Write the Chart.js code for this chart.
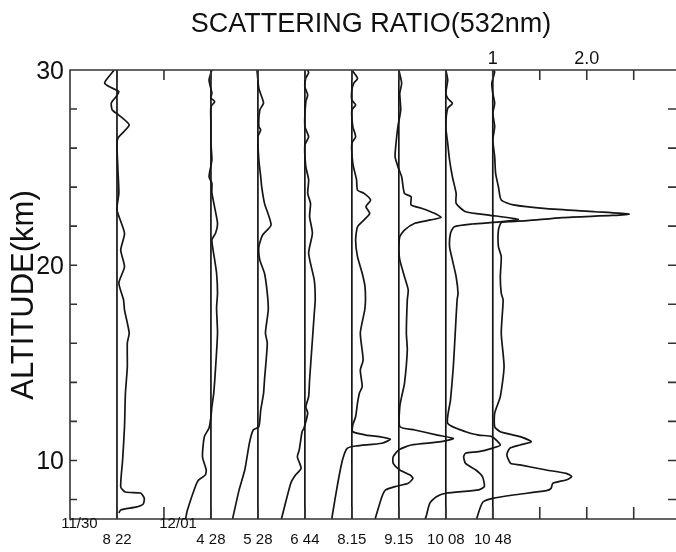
<!DOCTYPE html>
<html>
<head>
<meta charset="utf-8">
<script src="https://cdn.jsdelivr.net/npm/chart.js@4.4.0/dist/chart.umd.min.js"></script>
<style>
  html, body { margin: 0; padding: 0; background: #fff; }
</style>
</head>
<body>
<canvas id="ratioChart" width="676" height="552"></canvas>
<script>
// altitude range (km) and tick marks
const altMin = 7;
const altMax = 30;
const altTicks = [8, 10, 12, 14, 16, 18, 20, 22, 24, 26, 28];
const altLabels = [10, 20, 30];

// horizontal axis: one unit = 0.5 in scattering ratio, profiles shifted by offsets
const xMax = 12.9;
const xTicks = [1, 2, 3, 4, 5, 6, 7, 8, 9, 10, 11, 12];
const unitsPerRatio = 2;
const ratioLabels = ['1', '2.0'];
const ratioLabelAt = [9, 11];

const profileOffsets = [1, 3, 4, 5, 6, 7, 8, 9];
const profileTimes = ['8 22', '4 28', '5 28', '6 44', '8.15', '9.15', '10 08', '10 48'];
const dateLabels = ['11/30', '12/01'];
const dateAt = [0.2, 2.3];

// [altitude km, scattering ratio]
const p0822 = [[30, 0.97], [29.49, 0.885], [29.32, 0.87], [29.14, 0.92], [28.89, 1.02], [28.63, 0.99],
  [28.31, 0.94], [27.95, 0.95], [27.69, 1.02], [27.18, 1.13], [26.58, 1.02], [26.33, 1.0], [24.88, 1.01],
  [23.7, 1.02], [22.83, 1.0], [21.64, 1.08], [20.78, 1.04], [19.92, 1.08], [19.09, 1.02], [18.22, 1.07],
  [17.71, 1.08], [16.53, 1.13], [16.02, 1.11], [14.79, 1.11], [13.45, 1.09], [11.7, 1.08], [10.02, 1.06],
  [8.64, 1.04], [8.38, 1.09], [8.33, 1.25], [8.07, 1.29], [7.77, 1.28], [7.62, 1.21], [7.46, 1.04], [7.31, 1.02]];

const p0428 = [[30, 1.01], [29.49, 0.98], [28.82, 1.01], [28.57, 1.0], [28.38, 1.04], [28.12, 1.0],
  [27.18, 1.0], [26.26, 1.0], [25.39, 1.01], [24.53, 0.98], [24.21, 1.01], [23.7, 1.01], [22.16, 1.07],
  [21.65, 1.05], [21.29, 1.01], [20.27, 1.04], [19.6, 1.06], [18.58, 1.07], [17.81, 1.06], [16.53, 1.07],
  [14.79, 1.05], [13.45, 1.03], [12.74, 1.01], [12.23, 1.0], [11.66, 0.98], [11.22, 0.93], [10.19, 0.91],
  [9.51, 0.95], [9.25, 0.94], [9.0, 0.87], [8.74, 0.84], [7.46, 0.75], [7.0, 0.73]];

const p0528 = [[30, 0.99], [29.06, 1.01], [28.31, 1.06], [27.95, 1.02], [27.1, 1.01], [26.93, 1.03],
  [26.58, 1.0], [25.39, 1.01], [24.53, 1.03], [24.02, 1.04], [23.17, 1.07], [22.06, 1.14], [21.55, 1.05],
  [20.95, 1.01], [20.27, 1.02], [19.59, 1.07], [18.56, 1.1], [17.71, 1.11], [16.53, 1.08], [16.0, 1.1],
  [14.12, 1.07], [13.44, 1.06], [12.58, 1.03], [11.73, 1.01], [11.56, 0.95], [10.9, 0.91], [9.51, 0.86],
  [8.49, 0.8], [7.0, 0.73]];

const p0644 = [[30, 1.03], [29.85, 1.04], [29.59, 1.01], [29.14, 1.0], [28.72, 1.03], [28.38, 1.01],
  [27.1, 1.0], [26.58, 1.04], [26.16, 1.0], [25.05, 1.01], [24.37, 1.04], [23.68, 1.03], [23.17, 1.06],
  [22.49, 1.05], [21.64, 1.08], [20.61, 1.04], [19.24, 1.1], [18.22, 1.11], [17.54, 1.1], [16.17, 1.08],
  [14.12, 1.05], [13.27, 1.04], [12.75, 1.01], [12.42, 1.03], [11.65, 0.99], [11.47, 0.97], [10.54, 0.94],
  [10.19, 0.92], [9.59, 0.96], [9.25, 0.9], [8.83, 0.85], [7.0, 0.75]];

const p0815 = [[30, 1.0], [29.57, 1.06], [29.32, 1.02], [28.98, 1.0], [28.46, 1.0], [28.21, 1.04],
  [27.95, 1.0], [27.1, 1.01], [26.58, 1.04], [26.25, 1.0], [25.22, 1.01], [24.37, 1.05], [23.85, 1.06],
  [23.68, 1.13], [23.34, 1.2], [23.0, 1.15], [22.66, 1.19], [22.32, 1.13], [21.97, 1.06], [21.29, 1.04],
  [20.44, 1.06], [19.59, 1.11], [18.9, 1.14], [17.81, 1.14], [16.53, 1.09], [15.15, 1.12], [14.63, 1.09],
  [13.78, 1.11], [13.44, 1.08], [12.93, 1.06], [12.24, 1.04], [11.82, 1.01], [11.47, 1.01], [11.3, 1.15],
  [11.22, 1.29], [11.08, 1.41], [10.88, 1.32], [10.74, 1.04], [10.62, 0.95], [10.02, 0.9], [8.83, 0.85],
  [7.12, 0.79], [7.0, 0.79]];

const p0915 = [[30, 1.0], [29.32, 1.03], [28.81, 1.01], [27.95, 1.02], [27.1, 0.99], [26.25, 0.97],
  [25.56, 0.96], [25.05, 0.99], [24.53, 1.03], [23.68, 1.06], [23.51, 1.13], [23.09, 1.13], [22.92, 1.24],
  [22.66, 1.38], [22.45, 1.45], [22.32, 1.34], [22.15, 1.17], [21.8, 1.06], [21.46, 1.01], [20.78, 1.0],
  [20.27, 1.01], [19.41, 1.06], [18.73, 1.1], [18.22, 1.09], [16.51, 1.08], [15.66, 1.09], [13.95, 1.06],
  [13.27, 1.03], [12.75, 1.01], [11.73, 1.01], [11.56, 1.17], [11.3, 1.41], [11.13, 1.58], [10.96, 1.45],
  [10.79, 1.13], [10.54, 1.0], [10.19, 0.94], [9.85, 0.94], [9.51, 1.01], [9.25, 1.12], [9.08, 1.15],
  [8.83, 1.1], [8.66, 0.96], [8.49, 0.86], [8.14, 0.82], [7.04, 0.75], [7.0, 0.75]];

const p1008 = [[30, 1.0], [29.49, 1.02], [28.81, 1.0], [28.55, 1.02], [28.29, 1.07], [28.04, 1.02],
  [27.1, 1.0], [26.25, 1.02], [25.39, 1.04], [24.53, 1.07], [23.68, 1.11], [23.17, 1.11], [22.74, 1.21],
  [22.57, 1.46], [22.35, 1.77], [22.23, 1.6], [22.11, 1.28], [21.97, 1.09], [21.64, 1.05], [20.95, 1.04],
  [20.27, 1.07], [19.41, 1.11], [18.56, 1.13], [18.22, 1.12], [16.51, 1.1], [14.8, 1.08], [13.1, 1.05],
  [11.9, 1.02], [11.47, 1.21], [11.3, 1.35], [11.22, 1.49], [10.79, 1.58], [10.62, 1.49], [10.45, 1.35],
  [10.37, 1.21], [10.19, 1.19], [9.85, 1.21], [9.51, 1.32], [9.17, 1.39], [8.66, 1.41], [8.49, 1.35],
  [8.32, 1.0], [8.14, 0.9], [7.81, 0.83], [7.12, 0.79], [7.0, 0.78]];

const p1048 = [[30, 1.0], [29.91, 1.02], [29.32, 0.99], [28.81, 1.0], [28.29, 1.02], [27.78, 1.0],
  [27.1, 1.02], [26.41, 1.0], [25.56, 1.02], [24.71, 1.03], [24.02, 1.06], [23.34, 1.09], [23.09, 1.22],
  [22.9, 1.57], [22.74, 2.09], [22.62, 2.45], [22.55, 2.27], [22.44, 1.74], [22.28, 1.37], [22.23, 1.18],
  [22.18, 1.09], [21.8, 1.06], [20.95, 1.06], [20.44, 1.09], [19.41, 1.08], [18.56, 1.09], [18.22, 1.11],
  [16.51, 1.09], [14.8, 1.12], [13.27, 1.08], [12.42, 1.02], [11.73, 1.02], [11.47, 1.08], [11.22, 1.29],
  [10.96, 1.41], [10.79, 1.29], [10.62, 1.18], [10.28, 1.15], [9.85, 1.19], [9.77, 1.29], [9.51, 1.57],
  [9.34, 1.78], [9.17, 1.84], [9.0, 1.78], [8.83, 1.64], [8.57, 1.62], [8.45, 1.57], [8.23, 1.22],
  [8.06, 1.0], [7.89, 0.9], [7.63, 0.87], [7.04, 0.83], [7.0, 0.83]];

const profiles = [p0822, p0428, p0528, p0644, p0815, p0915, p1008, p1048];

const ink = '#151515';
const datasets = [];
profiles.forEach((prof, i) => {
  const off = profileOffsets[i];
  datasets.push({
    data: prof.map(([alt, r]) => ({ x: off + (r - 1) * unitsPerRatio, y: alt })),
    borderColor: ink,
    borderWidth: 1.7,
    tension: 0.2
  });
  // reference line at ratio = 1
  datasets.push({
    data: [{ x: off, y: altMin }, { x: off, y: altMax }],
    borderColor: ink,
    borderWidth: 1.7
  });
});

const frame = {
  id: 'frame',
  afterDatasetsDraw(chart) {
    const { ctx, chartArea: a, scales: { x, y } } = chart;
    ctx.save();
    ctx.strokeStyle = '#333';
    ctx.lineWidth = 1.6;
    ctx.beginPath();
    ctx.moveTo(a.right, a.top);
    ctx.lineTo(a.left, a.top);
    ctx.lineTo(a.left, a.bottom);
    ctx.lineTo(a.right, a.bottom);
    ctx.stroke();

    ctx.beginPath();
    xTicks.forEach(t => {
      const px = x.getPixelForValue(t);
      ctx.moveTo(px, a.top); ctx.lineTo(px, a.top + 10);
      ctx.moveTo(px, a.bottom); ctx.lineTo(px, a.bottom - 12);
    });
    altTicks.forEach(t => {
      const py = y.getPixelForValue(t);
      ctx.moveTo(a.left, py); ctx.lineTo(a.left + 7, py);
      ctx.moveTo(a.right - 8, py); ctx.lineTo(a.right, py);
    });
    ctx.stroke();

    ctx.fillStyle = '#111';
    ctx.font = '25px "Liberation Sans", Arial, sans-serif';
    ctx.textAlign = 'right';
    ctx.textBaseline = 'middle';
    altLabels.forEach(v => ctx.fillText(String(v), a.left - 6, y.getPixelForValue(v) + 2));

    ctx.font = '18px "Liberation Sans", Arial, sans-serif';
    ctx.textAlign = 'center';
    ctx.textBaseline = 'alphabetic';
    ratioLabels.forEach((s, i) => ctx.fillText(s, x.getPixelForValue(ratioLabelAt[i]), a.top - 6));

    ctx.font = '15px "Liberation Sans", Arial, sans-serif';
    ctx.textBaseline = 'middle';
    dateLabels.forEach((s, i) => ctx.fillText(s, x.getPixelForValue(dateAt[i]), a.bottom + 5));
    profileTimes.forEach((s, i) => ctx.fillText(s, x.getPixelForValue(profileOffsets[i]), a.bottom + 21));

    ctx.font = '27px "Liberation Sans", Arial, sans-serif';
    ctx.textBaseline = 'alphabetic';
    ctx.fillText('SCATTERING RATIO(532nm)', 371, 32);

    ctx.save();
    ctx.translate(33, 295);
    ctx.rotate(-Math.PI / 2);
    ctx.font = '31px "Liberation Sans", Arial, sans-serif';
    ctx.fillText('ALTITUDE(km)', 0, 0);
    ctx.restore();
    ctx.restore();
  }
};

new Chart(document.getElementById('ratioChart'), {
  type: 'scatter',
  data: { datasets },
  options: {
    responsive: false,
    animation: false,
    devicePixelRatio: 1,
    showLine: true,
    elements: { point: { radius: 0, hoverRadius: 0 } },
    layout: { padding: { left: 70, right: 0, top: 70, bottom: 33 } },
    scales: {
      x: { type: 'linear', min: 0, max: xMax, display: false },
      y: { type: 'linear', min: altMin, max: altMax, display: false }
    },
    plugins: { legend: { display: false }, tooltip: { enabled: false } }
  },
  plugins: [frame]
});
</script>
</body>
</html>
